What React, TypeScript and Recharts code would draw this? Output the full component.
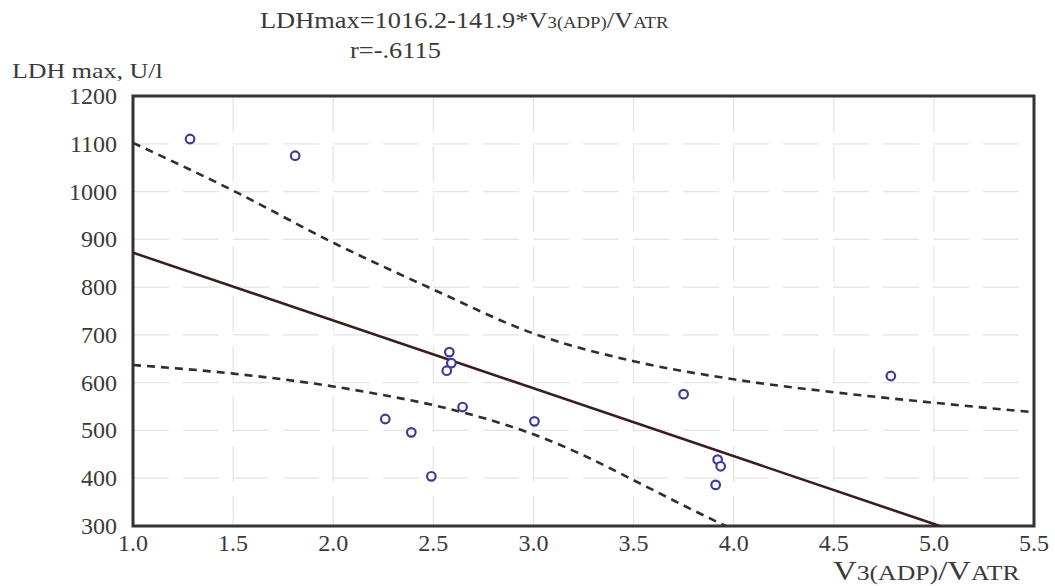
import React from "react";
import {
  ComposedChart,
  Line,
  Scatter,
  XAxis,
  YAxis,
  CartesianGrid,
  ReferenceArea,
} from "recharts";

// Observed points: V3(ADP)/VATR vs LDH max
const pointX = [1.285, 1.81, 2.58, 2.59, 2.567, 2.646, 2.26, 2.39, 2.49, 3.005, 3.75, 3.92, 3.935, 3.91, 4.785];
const pointY = [1110, 1075, 664, 641, 625, 549, 524, 496, 404, 519, 576, 439, 425, 386, 614];

// Regression line
const fitX = [1.0, 5.03];
const fitY = [872, 300];

// Upper confidence band
const upperX = [1.0, 1.5, 2.0, 2.5, 3.0, 3.5, 4.0, 4.5, 5.0, 5.5];
const upperY = [1102, 1002, 893, 795, 703, 645, 607, 580, 558, 538];

// Lower confidence band
const lowerX = [1.0, 1.5, 2.0, 2.25, 2.5, 2.75, 3.0, 3.25, 3.5, 3.75, 3.96];
const lowerY = [637, 619, 592, 574, 553, 526, 492, 448, 396, 343, 300];

const xTicks = [1.0, 1.5, 2.0, 2.5, 3.0, 3.5, 4.0, 4.5, 5.0, 5.5];
const yTicks = [300, 400, 500, 600, 700, 800, 900, 1000, 1100, 1200];

const zip = (xs: number[], ys: number[]) => xs.map((x, i) => ({ x, y: ys[i] }));

const points = zip(pointX, pointY);
const fit = zip(fitX, fitY);
const upper = zip(upperX, upperY);
const lower = zip(lowerX, lowerY);

const FONT = "Liberation Serif";
const TXT = "#3a3a3a";

const YTick = (props: any) => {
  const { x, y, payload } = props;
  return (
    <text x={x} y={y} dy={8} textAnchor="end" fontFamily={FONT} fontSize={24} fill={TXT}>
      {String(payload.value)}
    </text>
  );
};

const XTick = (props: any) => {
  const { x, y, payload } = props;
  return (
    <text x={x} y={y} dy={25} textAnchor="middle" fontFamily={FONT} fontSize={24} fill={TXT}>
      {Number(payload.value).toFixed(1)}
    </text>
  );
};

const Ring = (props: any) => {
  const { cx, cy } = props;
  if (cx == null || cy == null) return null;
  return <circle cx={cx} cy={cy} r={4.3} fill="#ffffff" stroke="#3d3d99" strokeWidth={2.2} />;
};

export default function App() {
  return (
    <div style={{ position: "absolute", left: 0, top: 0, width: 1055, height: 586, background: "#fff" }}>
      <ComposedChart
        width={1055}
        height={586}
        margin={{ top: 96, right: 21, bottom: 0, left: 0 }}
      >
        <CartesianGrid
          stroke="#e4e4e4"
          strokeDasharray="36 14"
          strokeWidth={1.2}
          horizontalValues={yTicks}
          verticalValues={xTicks}
        />
        <XAxis
          type="number"
          dataKey="x"
          domain={[1, 5.5]}
          ticks={xTicks}
          height={60}
          axisLine={false}
          tickLine={false}
          tickSize={0}
          tickMargin={0}
          tick={XTick}
          interval={0}
          allowDataOverflow
        />
        <YAxis
          type="number"
          dataKey="y"
          domain={[300, 1200]}
          ticks={yTicks}
          width={133}
          axisLine={false}
          tickLine={false}
          tickSize={0}
          tickMargin={16}
          tick={YTick}
          interval={0}
          allowDataOverflow
        />
        <Line
          data={upper}
          dataKey="y"
          type="monotone"
          stroke="#2e2e2e"
          strokeWidth={2.6}
          strokeDasharray="8 6"
          dot={false}
          activeDot={false}
          isAnimationActive={false}
        />
        <Line
          data={lower}
          dataKey="y"
          type="monotone"
          stroke="#2e2e2e"
          strokeWidth={2.6}
          strokeDasharray="8 6"
          dot={false}
          activeDot={false}
          isAnimationActive={false}
        />
        <Line
          data={fit}
          dataKey="y"
          type="linear"
          stroke="#3a1e1e"
          strokeWidth={2.6}
          dot={false}
          activeDot={false}
          isAnimationActive={false}
        />
        <Scatter data={points} dataKey="y" shape={<Ring />} isAnimationActive={false} />
        <ReferenceArea
          x1={1}
          x2={5.5}
          y1={300}
          y2={1200}
          fill="none"
          fillOpacity={0}
          stroke="#333333"
          strokeWidth={3}
          ifOverflow="visible"
        />
      </ComposedChart>
      <svg
        width={1055}
        height={586}
        style={{ position: "absolute", left: 0, top: 0, pointerEvents: "none" }}
      >
        <text transform="translate(260,28) scale(1.1,1)" fontFamily={FONT} fontSize={24} fill={TXT}>
          LDHmax=1016.2-141.9*V<tspan fontSize={17}>3(ADP)</tspan>/V<tspan fontSize={17}>ATR</tspan>
        </text>
        <text transform="translate(350,58) scale(1.1,1)" fontFamily={FONT} fontSize={24} fill={TXT}>
          r=-.6115
        </text>
        <text transform="translate(12,78) scale(1.18,1)" fontFamily={FONT} fontSize={22} fill={TXT}>
          LDH max, U/l
        </text>
        <text transform="translate(833,580) scale(1.17,1)" fontFamily={FONT} fontSize={28} fill={TXT}>
          V<tspan fontSize={22}>3(ADP)</tspan>/V<tspan fontSize={22}>ATR</tspan>
        </text>
      </svg>
    </div>
  );
}
